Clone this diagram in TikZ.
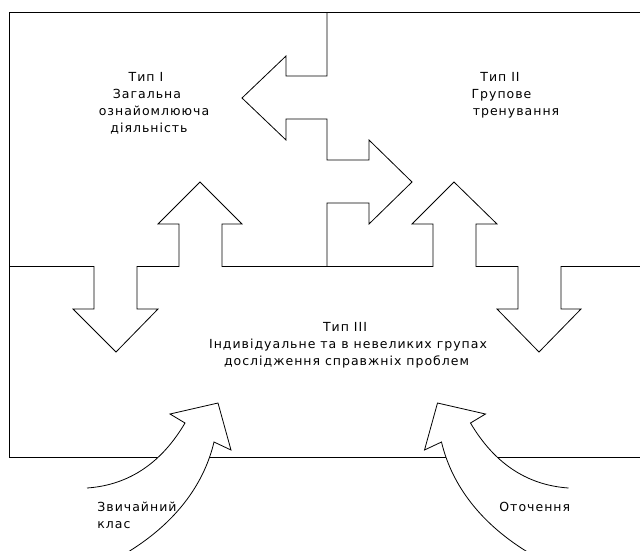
\documentclass[tikz,border=0pt]{standalone}
\usepackage{fontspec}
\newfontfamily\lblfont[LetterSpace=8]{DejaVu Sans}
\begin{document}
\begin{tikzpicture}[x=1pt,y=-1pt,line width=0.8pt,line join=miter,
  lbl/.style={font=\lblfont\fontsize{12.5}{17}\selectfont,inner sep=0pt,anchor=base},
  outline/.style={draw=black},
  arrowfill/.style={fill=white}]
\useasboundingbox (0,0) rectangle (640,550);
% outer frame
\draw[outline] (640,12.3) -- (9,12.3) -- (9,457) -- (640,457);
% top divider with left and right arrows
\draw[outline] (327,12.3) -- (327,76) -- (286,76) -- (286,56) -- (242,98) -- (286,140)
  -- (286,119) -- (327,119) -- (327,160) -- (369,160) -- (369,140) -- (412,182)
  -- (369,224) -- (369,203) -- (327,203) -- (327,266.5);
% middle line with up/down arrows
\draw[outline] (9,266.5) -- (94,266.5) -- (94,309) -- (73,309) -- (116,352) -- (158,309)
  -- (137,309) -- (137,266.5) -- (179,266.5) -- (179,224) -- (158,224) -- (200,182)
  -- (242,224) -- (222,224) -- (222,266.5) -- (433,266.5) -- (433,224) -- (412,224)
  -- (454,182) -- (497,224) -- (476,224) -- (476,266.5) -- (518,266.5) -- (518,309)
  -- (497,309) -- (539,352) -- (581,309) -- (561,309) -- (561,266.5) -- (640,266.5);
% curved arrows (left and mirrored right)
\foreach \sh/\sc in {0/1, 655.5/-1}{
\begin{scope}[xshift=\sh pt, xscale=\sc]
  \fill[arrowfill] (87,488) .. controls (130,485) and (162,462) .. (185,423) -- (170,414)
    -- (218,403) -- (231,450) -- (214,442) .. controls (205,480) and (180,520) .. (128,552) -- cycle;
  \draw[outline] (87,488) .. controls (130,485) and (162,462) .. (185,423) -- (170,414)
    -- (218,403) -- (231,450) -- (214,442) .. controls (205,480) and (180,520) .. (128,552);
\end{scope}}
% labels
\node[lbl] (t1a) at (146,81) {Тип I};
\node[lbl] (t1b) at (147,98) {Загальна};
\node[lbl] (t1c) at (154,115) {ознайомлююча};
\node[lbl] (t1d) at (149,132) {діяльність};
\node[lbl] (t2a) at (500,81) {Тип II};
\node[lbl] (t2b) at (501.5,98) {Групове};
\node[lbl] (t2c) at (516,115) {тренування};
\node[lbl] (t3a) at (345,331) {Тип III};
\node[lbl] (t3b) at (348,348) {Індивідуальне та в невеликих групах};
\node[lbl] (t3c) at (346.5,365) {дослідження справжніх проблем};
\node[lbl,anchor=base west] (k1) at (97,511) {Звичайний};
\node[lbl,anchor=base west] (k2) at (97,528) {клас};
\node[lbl,anchor=base west] (o1) at (499,511) {Оточення};
\end{tikzpicture}
\end{document}
